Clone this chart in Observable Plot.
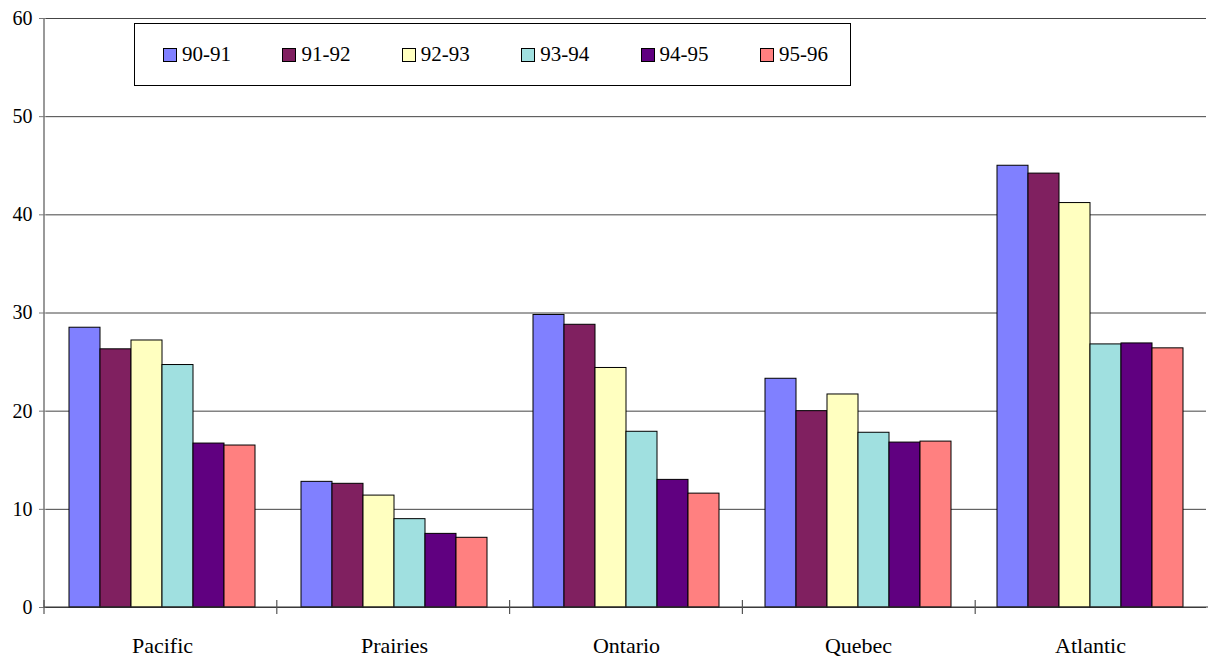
<!DOCTYPE html>
<html>
<head>
<meta charset="utf-8">
<script src="https://cdn.jsdelivr.net/npm/d3@7"></script>
<script src="https://cdn.jsdelivr.net/npm/@observablehq/plot@0.6"></script>
<style>
  html, body { margin: 0; padding: 0; background: #fff; }
  #wrap { position: relative; width: 1209px; height: 660px; }
  #legend {
    position: absolute; left: 134px; top: 23px; width: 717px; height: 63px;
    box-sizing: border-box; border: 1px solid #000; background: #fff;
    display: flex; align-items: center; padding-left: 28px; color: #000;
  }
  .item { width: 119.4px; display: flex; align-items: center; flex: none; }
  .sw { width: 12px; height: 12px; border: 1px solid #000; margin-right: 5px; flex: none; }
</style>
</head>
<body>
<div id="wrap"></div>
<script>
const regions = ["Pacific", "Prairies", "Ontario", "Quebec", "Atlantic"];
const years = ["90-91", "91-92", "92-93", "93-94", "94-95", "95-96"];
const colors = ["#8080FF", "#802060", "#FFFFC0", "#A0E0E0", "#600080", "#FF8080"];
const v9091 = [28.5, 12.8, 29.8, 23.3, 45.0];
const v9192 = [26.3, 12.6, 28.8, 20.0, 44.2];
const v9293 = [27.2, 11.4, 24.4, 21.7, 41.2];
const v9394 = [24.7, 9.0, 17.9, 17.8, 26.8];
const v9495 = [16.7, 7.5, 13.0, 16.8, 26.9];
const v9596 = [16.5, 7.1, 11.6, 16.9, 26.4];
const yTicks = [0, 10, 20, 30, 40, 50, 60];

const series = [v9091, v9192, v9293, v9394, v9495, v9596];
const data = [];
regions.forEach((r, i) => years.forEach((y, j) => data.push({region: r, year: y, value: series[j][i]})));

const font = "'Liberation Serif', 'DejaVu Serif', serif";

const plot = Plot.plot({
  width: 1209,
  height: 660,
  marginLeft: 44,
  marginRight: 1,
  marginTop: 18,
  marginBottom: 53,
  style: {fontFamily: font, background: "#fff", color: "#000"},
  fx: {domain: regions, padding: 0, axis: null},
  x: {domain: years, paddingInner: 0, paddingOuter: 0.734, axis: null},
  y: {domain: [0, 60], axis: null},
  color: {domain: years, range: colors},
  marks: [
    Plot.gridY(yTicks, {stroke: "#444", strokeOpacity: 1, strokeWidth: 1}),
    Plot.barY(data, {fx: "region", x: "year", y: "value", fill: "year", stroke: "#000", strokeWidth: 1}),
    Plot.axisY(yTicks, {anchor: "left", tickSize: 7, tickPadding: 7, fontSize: 20, stroke: "#777", label: null, tickFormat: d => String(d)}),
    Plot.axisFx({anchor: "bottom", tickSize: 0, tickPadding: 30, fontSize: 22, label: null})
  ]
});

const svgNode = plot.tagName.toLowerCase() === "svg" ? plot : plot.querySelector("svg");
const svg = d3.select(svgNode);
svg.selectAll("text").attr("font-family", font).style("font-family", font);

// axis lines and category separators, positioned from the plot's own scales
const ys = plot.scale("y");
const fxs = plot.scale("fx");
const yScale = d3.scaleLinear().domain(ys.domain).range(ys.range);
const fxScale = d3.scaleBand().domain(fxs.domain).range(fxs.range).paddingInner(0).paddingOuter(0);
const y0 = yScale(0), yTop = yScale(60);
const x0 = fxs.range[0], x1 = fxs.range[1];
const g = svg.append("g");
g.append("line").attr("x1", x0).attr("x2", x0).attr("y1", yTop).attr("y2", y0)
  .attr("stroke", "#777").attr("stroke-width", 1.5);
g.append("line").attr("x1", x0).attr("x2", x1).attr("y1", y0).attr("y2", y0)
  .attr("stroke", "#333").attr("stroke-width", 1);
regions.forEach(r => {
  const xb = fxScale(r);
  g.append("line").attr("x1", xb).attr("x2", xb).attr("y1", y0 - 7).attr("y2", y0 + 7)
    .attr("stroke", "#555").attr("stroke-width", 1.2);
});

const wrap = document.getElementById("wrap");
wrap.appendChild(plot);

const legend = document.createElement("div");
legend.id = "legend";
legend.style.fontFamily = font;
legend.style.fontSize = "21px";
years.forEach((y, j) => {
  const it = document.createElement("div");
  it.className = "item";
  const sw = document.createElement("span");
  sw.className = "sw";
  sw.style.background = colors[j];
  const t = document.createElement("span");
  t.textContent = y;
  t.style.fontFamily = font;
  it.appendChild(sw); it.appendChild(t);
  legend.appendChild(it);
});
wrap.appendChild(legend);
</script>
</body>
</html>
